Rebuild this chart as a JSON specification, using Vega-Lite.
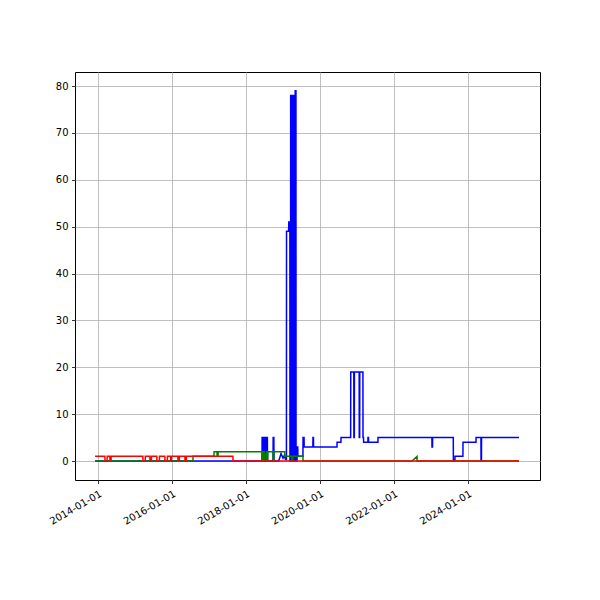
{
  "$schema": "https://vega.github.io/schema/vega-lite/v6.json",
  "width": 465,
  "height": 408,
  "autosize": {"type": "none"},
  "padding": {"left": 75, "top": 72, "right": 60, "bottom": 120},
  "background": "white",
  "config": {
    "view": {"stroke": "black", "strokeWidth": 1},
    "axis": {
      "grid": true, "gridColor": "#b0b0b0", "gridWidth": 0.8,
      "domain": false, "tickColor": "black", "tickSize": 3.5, "tickWidth": 0.8,
      "labelFont": "DejaVu Sans", "labelFontSize": 10, "labelColor": "black", "labelPadding": 3.5,
      "title": null
    }
  },
  "data": {"values": [
    {"s":"blue","d":"2013-12-03","v":0},
    {"s":"blue","d":"2018-06-08","v":0},{"s":"blue","d":"2018-06-09","v":5},{"s":"blue","d":"2018-06-13","v":5},{"s":"blue","d":"2018-06-14","v":0},
    {"s":"blue","d":"2018-06-17","v":0},{"s":"blue","d":"2018-06-18","v":5},{"s":"blue","d":"2018-06-23","v":5},{"s":"blue","d":"2018-06-24","v":0},
    {"s":"blue","d":"2018-06-27","v":0},{"s":"blue","d":"2018-06-28","v":5},{"s":"blue","d":"2018-07-05","v":5},{"s":"blue","d":"2018-07-06","v":0},
    {"s":"blue","d":"2018-07-09","v":0},{"s":"blue","d":"2018-07-10","v":5},{"s":"blue","d":"2018-07-20","v":5},{"s":"blue","d":"2018-07-21","v":0},
    {"s":"blue","d":"2018-07-24","v":0},{"s":"blue","d":"2018-07-25","v":5},{"s":"blue","d":"2018-07-31","v":5},{"s":"blue","d":"2018-08-01","v":0},
    {"s":"blue","d":"2018-09-25","v":0},{"s":"blue","d":"2018-09-26","v":5},{"s":"blue","d":"2018-10-03","v":5},{"s":"blue","d":"2018-10-04","v":0},
    {"s":"blue","d":"2018-11-20","v":0},{"s":"blue","d":"2018-12-13","v":1.6},{"s":"blue","d":"2019-01-01","v":0.6},{"s":"blue","d":"2019-01-14","v":1.2},
    {"s":"blue","d":"2019-01-26","v":0.3},{"s":"blue","d":"2019-02-04","v":0.3},{"s":"blue","d":"2019-02-05","v":49},{"s":"blue","d":"2019-02-26","v":49},
    {"s":"blue","d":"2019-02-27","v":51},{"s":"blue","d":"2019-03-10","v":51},{"s":"blue","d":"2019-03-11","v":0},
    {"s":"blue","d":"2019-03-17","v":0},{"s":"blue","d":"2019-03-18","v":78},{"s":"blue","d":"2019-03-22","v":78},{"s":"blue","d":"2019-03-23","v":0},
    {"s":"blue","d":"2019-03-26","v":0},{"s":"blue","d":"2019-03-27","v":78},{"s":"blue","d":"2019-03-31","v":78},{"s":"blue","d":"2019-04-01","v":0},
    {"s":"blue","d":"2019-04-04","v":0},{"s":"blue","d":"2019-04-05","v":78},{"s":"blue","d":"2019-04-09","v":78},{"s":"blue","d":"2019-04-10","v":0},
    {"s":"blue","d":"2019-04-13","v":0},{"s":"blue","d":"2019-04-14","v":78},{"s":"blue","d":"2019-04-18","v":78},{"s":"blue","d":"2019-04-19","v":0},
    {"s":"blue","d":"2019-04-22","v":0},{"s":"blue","d":"2019-04-23","v":78},{"s":"blue","d":"2019-04-27","v":78},{"s":"blue","d":"2019-04-28","v":0},
    {"s":"blue","d":"2019-05-01","v":0},{"s":"blue","d":"2019-05-02","v":79},{"s":"blue","d":"2019-05-09","v":79},{"s":"blue","d":"2019-05-10","v":0},
    {"s":"blue","d":"2019-05-20","v":0},{"s":"blue","d":"2019-05-21","v":3},{"s":"blue","d":"2019-05-27","v":3},{"s":"blue","d":"2019-05-28","v":1},
    {"s":"blue","d":"2019-07-17","v":1},{"s":"blue","d":"2019-07-18","v":5},{"s":"blue","d":"2019-07-28","v":5},{"s":"blue","d":"2019-07-29","v":3},
    {"s":"blue","d":"2019-10-23","v":3},{"s":"blue","d":"2019-10-24","v":5},{"s":"blue","d":"2019-10-29","v":5},{"s":"blue","d":"2019-10-30","v":3},
    {"s":"blue","d":"2020-06-17","v":3},{"s":"blue","d":"2020-06-18","v":4},{"s":"blue","d":"2020-07-26","v":4},{"s":"blue","d":"2020-07-27","v":5},
    {"s":"blue","d":"2020-10-30","v":5},{"s":"blue","d":"2020-10-31","v":19},{"s":"blue","d":"2020-11-30","v":19},{"s":"blue","d":"2020-12-01","v":5},
    {"s":"blue","d":"2020-12-05","v":5},{"s":"blue","d":"2020-12-06","v":19},{"s":"blue","d":"2021-01-22","v":19},{"s":"blue","d":"2021-01-23","v":5},
    {"s":"blue","d":"2021-01-27","v":5},{"s":"blue","d":"2021-01-28","v":19},{"s":"blue","d":"2021-02-28","v":19},{"s":"blue","d":"2021-03-01","v":5},
    {"s":"blue","d":"2021-03-06","v":5},{"s":"blue","d":"2021-03-07","v":4},{"s":"blue","d":"2021-04-18","v":4},{"s":"blue","d":"2021-04-19","v":5},
    {"s":"blue","d":"2021-04-24","v":5},{"s":"blue","d":"2021-04-25","v":4},{"s":"blue","d":"2021-07-26","v":4},{"s":"blue","d":"2021-07-27","v":5},
    {"s":"blue","d":"2023-01-10","v":5},{"s":"blue","d":"2023-01-11","v":3},{"s":"blue","d":"2023-01-16","v":3},{"s":"blue","d":"2023-01-17","v":5},
    {"s":"blue","d":"2023-08-09","v":5},{"s":"blue","d":"2023-08-10","v":0},{"s":"blue","d":"2023-08-25","v":0},{"s":"blue","d":"2023-08-26","v":1},
    {"s":"blue","d":"2023-11-12","v":1},{"s":"blue","d":"2023-11-13","v":4},{"s":"blue","d":"2024-03-20","v":4},{"s":"blue","d":"2024-03-21","v":5},
    {"s":"blue","d":"2024-05-08","v":5},{"s":"blue","d":"2024-05-09","v":0},{"s":"blue","d":"2024-05-13","v":0},{"s":"blue","d":"2024-05-14","v":5},
    {"s":"blue","d":"2025-05-19","v":5},

    {"s":"green","d":"2013-12-03","v":0},
    {"s":"green","d":"2016-07-26","v":0},{"s":"green","d":"2016-07-27","v":1},{"s":"green","d":"2017-02-19","v":1},{"s":"green","d":"2017-02-20","v":2},
    {"s":"green","d":"2017-03-21","v":2},{"s":"green","d":"2017-03-22","v":1},{"s":"green","d":"2017-03-31","v":1},{"s":"green","d":"2017-04-01","v":2},
    {"s":"green","d":"2018-06-09","v":2},{"s":"green","d":"2018-06-10","v":0},{"s":"green","d":"2018-06-20","v":0},{"s":"green","d":"2018-06-21","v":2},
    {"s":"green","d":"2018-06-30","v":2},{"s":"green","d":"2018-07-01","v":0},{"s":"green","d":"2018-07-20","v":0},{"s":"green","d":"2018-07-21","v":2},
    {"s":"green","d":"2018-07-28","v":2},{"s":"green","d":"2018-07-29","v":0},{"s":"green","d":"2018-08-04","v":0},{"s":"green","d":"2018-08-05","v":2},
    {"s":"green","d":"2018-09-25","v":2},{"s":"green","d":"2018-09-26","v":0},{"s":"green","d":"2018-10-03","v":0},{"s":"green","d":"2018-10-04","v":2},
    {"s":"green","d":"2019-01-19","v":2},{"s":"green","d":"2019-01-20","v":1},{"s":"green","d":"2019-03-31","v":1},{"s":"green","d":"2019-04-01","v":0},
    {"s":"green","d":"2019-04-08","v":0},{"s":"green","d":"2019-04-09","v":1},{"s":"green","d":"2019-07-17","v":1},{"s":"green","d":"2019-07-18","v":0},
    {"s":"green","d":"2022-06-28","v":0},{"s":"green","d":"2022-08-16","v":1},{"s":"green","d":"2022-08-17","v":0},{"s":"green","d":"2025-05-19","v":0},

    {"s":"red","d":"2013-12-03","v":1},
    {"s":"red","d":"2014-03-10","v":1},{"s":"red","d":"2014-03-11","v":0},{"s":"red","d":"2014-04-01","v":0},{"s":"red","d":"2014-04-02","v":1},
    {"s":"red","d":"2014-04-28","v":1},{"s":"red","d":"2014-04-29","v":0},{"s":"red","d":"2014-05-10","v":0},{"s":"red","d":"2014-05-11","v":1},
    {"s":"red","d":"2015-03-20","v":1},{"s":"red","d":"2015-03-21","v":0},{"s":"red","d":"2015-04-12","v":0},{"s":"red","d":"2015-04-13","v":1},
    {"s":"red","d":"2015-05-28","v":1},{"s":"red","d":"2015-05-29","v":0},{"s":"red","d":"2015-06-12","v":0},{"s":"red","d":"2015-06-13","v":1},
    {"s":"red","d":"2015-08-05","v":1},{"s":"red","d":"2015-08-06","v":0},{"s":"red","d":"2015-08-30","v":0},{"s":"red","d":"2015-08-31","v":1},
    {"s":"red","d":"2015-10-23","v":1},{"s":"red","d":"2015-10-24","v":0},{"s":"red","d":"2015-11-16","v":0},{"s":"red","d":"2015-11-17","v":1},
    {"s":"red","d":"2015-12-19","v":1},{"s":"red","d":"2015-12-20","v":0},{"s":"red","d":"2015-12-27","v":0},{"s":"red","d":"2015-12-28","v":1},
    {"s":"red","d":"2016-02-29","v":1},{"s":"red","d":"2016-03-01","v":0},{"s":"red","d":"2016-03-14","v":0},{"s":"red","d":"2016-03-15","v":1},
    {"s":"red","d":"2016-05-08","v":1},{"s":"red","d":"2016-05-09","v":0},{"s":"red","d":"2016-05-22","v":0},{"s":"red","d":"2016-05-23","v":1},
    {"s":"red","d":"2017-08-25","v":1},{"s":"red","d":"2017-08-26","v":0},{"s":"red","d":"2025-05-19","v":0}
  ]},
  "mark": {"type": "line", "strokeWidth": 1.5, "interpolate": "linear"},
  "encoding": {
    "x": {
      "field": "d", "type": "temporal",
      "scale": {"type": "utc", "domain": [{"year": 2013, "month": 5, "date": 19, "utc": true}, {"year": 2025, "month": 12, "date": 12, "utc": true}], "nice": false},
      "axis": {
        "values": [
          {"year": 2014, "month": 1, "date": 1, "utc": true},
          {"year": 2016, "month": 1, "date": 1, "utc": true},
          {"year": 2018, "month": 1, "date": 1, "utc": true},
          {"year": 2020, "month": 1, "date": 1, "utc": true},
          {"year": 2022, "month": 1, "date": 1, "utc": true},
          {"year": 2024, "month": 1, "date": 1, "utc": true}
        ],
        "labelExpr": "utcFormat(datum.value, '%Y-%m-%d')",
        "labelOverlap": false,
        "labelAngle": -30, "labelAlign": "right", "labelBaseline": "top", "labelPadding": 5
      }
    },
    "y": {
      "field": "v", "type": "quantitative",
      "scale": {"domain": [-4.05, 83], "nice": false, "zero": false},
      "axis": {"values": [0, 10, 20, 30, 40, 50, 60, 70, 80]}
    },
    "color": {
      "field": "s", "type": "nominal",
      "scale": {"domain": ["blue", "green", "red"], "range": ["#0000ff", "#008000", "#ff0000"]},
      "legend": null
    }
  }
}
